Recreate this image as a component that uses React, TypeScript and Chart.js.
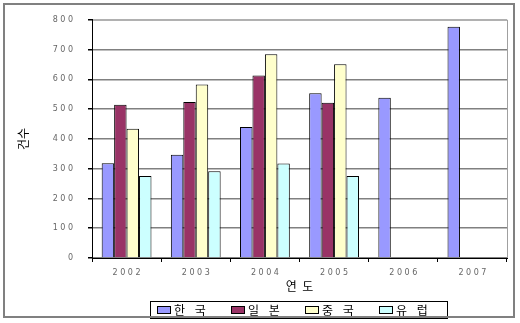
import React, { useEffect, useRef } from "react";
import { Chart, registerables } from "chart.js";

Chart.register(...registerables);

const categories = ["2002", "2003", "2004", "2005", "2006", "2007"];
const korea = [318, 347, 440, 553, 538, 777];
const japan = [515, 524, 613, 521, null, null];
const china = [434, 583, 684, 651, null, null];
const europe = [275, 291, 317, 275, null, null];
const seriesLabels = ["한 국", "일 본", "중 국", "유 럽"];
const yTicks = [0, 100, 200, 300, 400, 500, 600, 700, 800];

const colors = ["#9999FF", "#993366", "#FFFFCC", "#CCFFFF"];

const spaced = (s: string) => s.split("").join(" ");

const framePlugin = {
  id: "frame",
  beforeDraw(chart: any) {
    const ctx = chart.ctx;
    ctx.save();
    ctx.fillStyle = "#ffffff";
    ctx.fillRect(0, 0, chart.width, chart.height);
    const a = chart.chartArea;
    ctx.strokeStyle = "#a0a0a0";
    ctx.lineWidth = 1;
    ctx.strokeRect(a.left + 0.5, a.top + 0.5, a.right - a.left, a.bottom - a.top);
    ctx.restore();
  },
  afterDraw(chart: any) {
    const ctx = chart.ctx;
    ctx.save();
    // legend
    const lx = 150, ly = 301, lw = 297, lh = 17;
    ctx.fillStyle = "#ffffff";
    ctx.fillRect(lx, ly, lw, lh);
    ctx.strokeStyle = "#000000";
    ctx.lineWidth = 1;
    ctx.strokeRect(lx + 0.5, ly + 0.5, lw, lh);
    ctx.font = "12px 'Noto Sans CJK KR'";
    (ctx as any).letterSpacing = "3.5px";
    ctx.textBaseline = "middle";
    ctx.textAlign = "left";
    chart.data.datasets.forEach((ds: any, i: number) => {
      const x = 157 + i * 74;
      const y = 306;
      ctx.fillStyle = ds.backgroundColor;
      ctx.fillRect(x, y, 13, 7);
      ctx.strokeStyle = "#000";
      ctx.strokeRect(x + 0.5, y + 0.5, 13, 7);
      ctx.fillStyle = "#000";
      ctx.fillText(ds.label, x + 17, 310);
    });
    (ctx as any).letterSpacing = "0px";
    // outer border
    ctx.strokeStyle = "#808080";
    ctx.lineWidth = 2;
    ctx.strokeRect(4, 4, 510, 313);
    ctx.restore();
  },
};

export default function App() {
  const ref = useRef<HTMLCanvasElement>(null);
  useEffect(() => {
    document.body.style.margin = "0";
    const chart = new Chart(ref.current!, {
      type: "bar",
      data: {
        labels: categories,
        datasets: [korea, japan, china, europe].map((d, i) => ({
          label: seriesLabels[i],
          data: d,
          backgroundColor: colors[i],
          borderColor: "#000000",
          borderWidth: 1,
          barPercentage: 1,
          categoryPercentage: 0.72,
        })),
      },
      options: {
        animation: false,
        responsive: false,
        maintainAspectRatio: false,
        layout: { padding: { left: 0, top: 14, right: 13, bottom: 0 } },
        plugins: { legend: { display: false }, tooltip: { enabled: false } },
        scales: {
          x: {
            afterFit(scale: any) {
              scale.height = 65;
            },
            grid: {
              drawOnChartArea: false,
              drawTicks: true,
              tickLength: 4,
              color: "#000",
            },
            border: { color: "#000", width: 1 },
            ticks: {
              padding: 6,
              color: "#666",
              font: { family: "DejaVu Sans", size: 8 },
              callback: (v: any, i: number) => spaced(categories[i]),
            },
            title: {
              display: true,
              text: "연  도",
              color: "#000",
              font: { family: "Noto Sans CJK KR", size: 12 },
              padding: { top: 0, bottom: 29 },
            },
          },
          y: {
            min: 0,
            max: 800,
            afterFit(scale: any) {
              scale.width = 92;
            },
            afterBuildTicks(scale: any) {
              scale.ticks = yTicks.map((v) => ({ value: v }));
            },
            grid: {
              color: (c: any) => (c.tick && c.tick.value === 800 ? "#b0b0b0" : "#808080"),
              lineWidth: 1.5,
              tickLength: 4,
              tickColor: "#000",
            },
            border: { color: "#000", width: 1 },
            ticks: {
              padding: 15,
              color: "#666",
              font: { family: "DejaVu Sans", size: 8 },
              callback: (v: any) => spaced(String(v)),
            },
            title: {
              display: true,
              text: "건수",
              color: "#000",
              font: { family: "Noto Sans CJK KR", size: 12 },
              padding: { top: 16, bottom: 0 },
            },
          },
        },
      },
      plugins: [framePlugin],
    });
    return () => chart.destroy();
  }, []);
  return (
    <div style={{ position: "fixed", left: 0, top: 0, width: 520, height: 323 }}>
      <canvas ref={ref} width={520} height={323} />
    </div>
  );
}
